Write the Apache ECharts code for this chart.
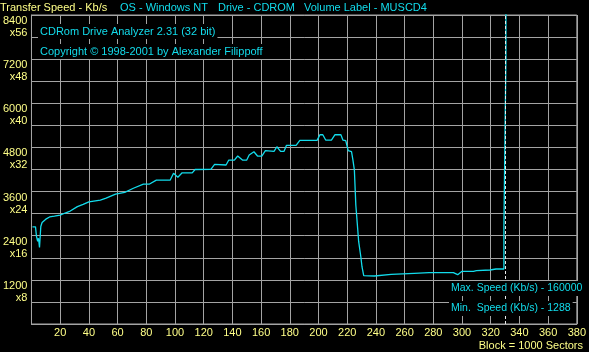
<!DOCTYPE html>
<html>
<head>
<meta charset="utf-8">
<title>CDRom Drive Analyzer</title>
<script src="https://cdn.jsdelivr.net/npm/echarts@6/dist/echarts.min.js"></script>
<style>
  html, body { margin: 0; padding: 0; background: #000; }
  #chart { width: 589px; height: 352px; }
</style>
</head>
<body>
<div id="chart"></div>
<script>
// block number (x1000 sectors)
const blocks = [
  0.7, 2.8, 3.5, 4.3, 4.9, 5.6, 6.5, 7.4, 10, 12.6, 16, 20, 23, 27, 32, 36, 40, 48, 52, 58.6,
  65, 71, 78, 82, 87, 96.6, 99, 102, 105, 112, 114, 125, 127.6, 135.6, 137.5, 141.4, 143.7, 147, 150, 151.7,
  155, 157.5, 160.5, 163, 169, 171, 173.6, 176, 177.7, 184.4, 187, 199, 201, 203, 205, 209, 211.5, 215.6, 217, 219,
  220.7, 223, 224, 225, 226, 227, 228, 229.5, 230.3, 231.5, 239, 239.5, 250.6, 266.7, 277, 294, 297, 300, 308, 310,
  319.5, 323.7, 329.2, 329.2, 329.9, 329.9, 330.6, 330.6, 331, 331
]
// transfer speed, Kb/s
const speeds = [
  2640, 2640, 2380, 2250, 2330, 2080, 2650, 2760, 2850, 2910, 2930, 2960, 3010, 3070, 3190, 3250, 3320, 3370, 3420, 3530,
  3580, 3690, 3800, 3800, 3910, 3910, 4096, 3990, 4110, 4110, 4200, 4204, 4340, 4322, 4457, 4457, 4566, 4457, 4457, 4593,
  4683, 4566, 4566, 4711, 4693, 4819, 4693, 4693, 4857, 4857, 4993, 4993, 5145, 5145, 5001, 5001, 5145, 5145, 5001, 4982,
  4711, 4683, 4457, 4186, 3234, 2737, 2237, 1829, 1557, 1313, 1305, 1332, 1350, 1378, 1396, 1396, 1340, 1432, 1432, 1450,
  1468, 1495, 1495, 2610, 2610, 4950, 4950, 7260, 7260, 160000
]
const markerBlock = 330.3
const headerItems = ['Transfer Speed - Kb/s', 'OS - Windows NT', 'Drive - CDROM', 'Volume Label - MUSCD4']
const infoLines = ['CDRom Drive Analyzer 2.31 (32 bit)', 'Copyright \u00a9 1998-2001 by Alexander Filippoff']
const statLines = ['Max. Speed (Kb/s) - 160000', 'Min.  Speed (Kb/s) - 1288']
const footerText = 'Block = 1000 Sectors'
const speedPerX = 150

const FONT = '"Liberation Sans", Arial, sans-serif'
const YELLOW = '#ffff88'
const CYAN = '#12dcec'
const GRID = '#a4a4a4'

const textBox = (text, pos, color, boxed, size = 11) => ({
  text,
  ...pos,
  padding: boxed ? [1, 2] : 0,
  backgroundColor: boxed ? '#000' : 'transparent',
  textStyle: {
    color,
    fontFamily: FONT,
    fontSize: size,
    fontWeight: 'normal',
    lineHeight: 13
  }
})

const headerLefts = [0, 120, 218, 304]
const titles = [
  ...headerItems.map((t, i) => textBox(t, { left: headerLefts[i], top: 1 }, i === 0 ? YELLOW : CYAN, false)),
  textBox(infoLines[0], { left: 38, top: 24 }, CYAN, true),
  textBox(infoLines[1], { left: 38, top: 44 }, CYAN, true),
  textBox(statLines[0], { left: 449, top: 281 }, CYAN, true, 10.5),
  textBox(statLines[1], { left: 449, top: 301 }, CYAN, true, 10.5),
  textBox(footerText, { right: 6, top: 339 }, YELLOW, false)
]

const chart = echarts.init(document.getElementById('chart'), null, { renderer: 'canvas' })

chart.setOption({
  backgroundColor: '#000',
  animation: false,
  title: titles,
  grid: {
    left: 30,
    right: 8,
    top: 15,
    bottom: 28,
    show: true,
    borderColor: GRID,
    borderWidth: 1
  },
  xAxis: {
    type: 'value',
    min: 0,
    max: 380,
    interval: 20,
    axisLine: { show: true, lineStyle: { color: GRID } },
    axisTick: { show: false },
    splitLine: { show: true, lineStyle: { color: GRID, width: 1 } },
    axisLabel: {
      color: YELLOW,
      fontFamily: FONT,
      fontSize: 11,
      margin: 3,
      formatter: v => (v === 0 ? '' : String(v))
    }
  },
  yAxis: {
    type: 'value',
    min: 0,
    max: 8400,
    interval: 600,
    axisLine: { show: true, lineStyle: { color: GRID } },
    axisTick: { show: false },
    splitLine: { show: true, lineStyle: { color: GRID, width: 1 } },
    axisLabel: {
      color: YELLOW,
      fontFamily: FONT,
      fontSize: 11,
      lineHeight: 12,
      margin: 4,
      align: 'right',
      verticalAlign: 'top',
      formatter: v => (v > 0 && v % 1200 === 0 ? `${v}\nx${v / speedPerX}` : '')
    }
  },
  series: [{
    type: 'line',
    data: blocks.map((b, i) => [b, speeds[i]]),
    showSymbol: false,
    clip: true,
    lineStyle: { color: CYAN, width: 1.3 },
    markLine: {
      silent: true,
      symbol: 'none',
      label: { show: false },
      lineStyle: { color: '#e8e8e8', type: [3, 2], width: 1 },
      data: [{ xAxis: markerBlock }]
    }
  }]
})
</script>
</body>
</html>
